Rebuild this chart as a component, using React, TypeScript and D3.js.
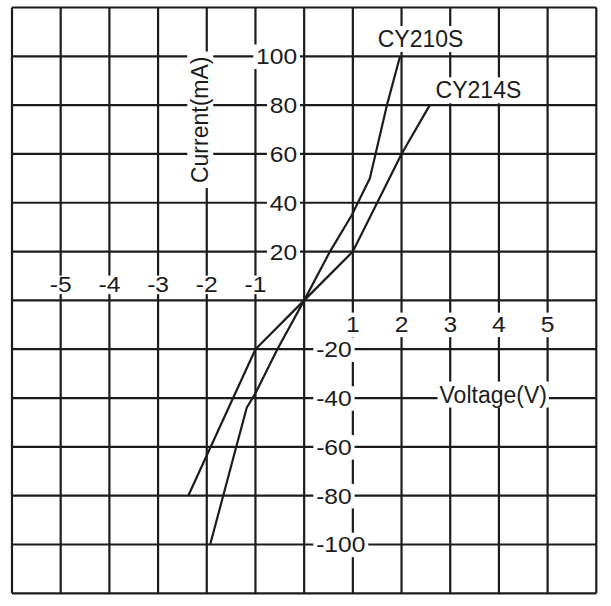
import React, { useEffect, useRef } from "react";
import * as d3 from "d3";

const W = 611;
const H = 606;

const gridX = [-6, -5, -4, -3, -2, -1, 0, 1, 2, 3, 4, 5, 6];
const gridY = [-120, -100, -80, -60, -40, -20, 0, 20, 40, 60, 80, 100, 120];
const xTicksNeg = [-5, -4, -3, -2, -1];
const xTicksPos = [1, 2, 3, 4, 5];
const yTicksPos = [100, 80, 60, 40, 20];
const yTicksNeg = [-20, -40, -60, -80, -100];

const cy210sV = [-1.93, -1.18, -1.0, -0.55, 0, 0.53, 0.98, 1.35, 1.7, 1.97];
const cy210sI = [-100, -44, -38, -20, 0, 20, 35, 50, 80, 100];
const cy214sV = [-2.38, -1.0, 0, 1.0, 2.0, 2.58];
const cy214sI = [-80, -20, 0, 20, 60, 80];

const INK = "#1c1c1c";
const FONT = "'Liberation Sans', Arial, sans-serif";

export default function App() {
  const ref = useRef<SVGSVGElement>(null);

  useEffect(() => {
    const svg = d3.select(ref.current);
    svg.selectAll("*").remove();

    const x = d3.scaleLinear().domain([-6, 6]).range([12, 596.3]);
    const y = d3.scaleLinear().domain([-120, 120]).range([593.3, 7.5]);

    const g = svg.append("g");

    // grid
    g.selectAll("line.v")
      .data(gridX)
      .join("line")
      .attr("x1", (d) => x(d))
      .attr("x2", (d) => x(d))
      .attr("y1", y(120))
      .attr("y2", y(-120))
      .attr("stroke", INK)
      .attr("stroke-width", 2.2);
    g.selectAll("line.h")
      .data(gridY)
      .join("line")
      .attr("class", "h")
      .attr("x1", x(-6))
      .attr("x2", x(6))
      .attr("y1", (d) => y(d))
      .attr("y2", (d) => y(d))
      .attr("stroke", INK)
      .attr("stroke-width", 2.2);

    const labels = svg.append("g");

    function addLabel(
      text: string,
      tx: number,
      ty: number,
      anchor: string,
      size: number,
      padX: number,
      padY: number,
      rotate = 0,
      sx = 1
    ) {
      const grp = labels
        .append("g")
        .attr("transform", `translate(${tx},${ty}) rotate(${rotate}) scale(${sx},1)`);
      const rect = grp.append("rect").attr("fill", "#fff");
      const t = grp
        .append("text")
        .attr("text-anchor", anchor)
        .attr("font-family", FONT)
        .attr("font-size", size)
        .attr("fill", INK)
        .text(text);
      const bb = (t.node() as SVGTextElement).getBBox();
      rect
        .attr("x", bb.x - padX)
        .attr("y", bb.y - padY)
        .attr("width", bb.width + 2 * padX)
        .attr("height", bb.height + 2 * padY);
    }

    const tickSize = 22;
    const sx = 1.12;
    xTicksNeg.forEach((v) =>
      addLabel(String(v), x(v), y(0) - 8, "middle", tickSize, 1, -3, 0, sx)
    );
    xTicksPos.forEach((v) =>
      addLabel(String(v), x(v), y(0) + 32, "middle", tickSize, 1, 0, 0, sx)
    );
    yTicksPos.forEach((v) =>
      addLabel(String(v), x(0) - 7, y(v) + 8, "end", tickSize, 2.5, 0, 0, sx)
    );
    yTicksNeg.forEach((v) =>
      addLabel(String(v), x(0) + 12, y(v) + 8, "start", tickSize, 2.5, 0, 0, sx)
    );

    addLabel("Current(mA)", x(-2) + 1.5, y(74), "middle", 23, 5, 0, -90);
    addLabel("Voltage(V)", x(2.78), y(-40) + 4.5, "start", 23, 2, 0);
    addLabel("CY210S", x(1.5) + 0.5, 47, "start", 23, 2, 0);
    addLabel("CY214S", x(2.7), 98.3, "start", 23, 2, 0);

    // curves
    const line = d3
      .line<number>()
      .x((d) => d)
      .y((d) => d);
    const series = [
      { v: cy210sV, i: cy210sI },
      { v: cy214sV, i: cy214sI },
    ];
    const path = d3
      .line<[number, number]>()
      .x((d) => x(d[0]))
      .y((d) => y(d[1]));
    svg
      .append("g")
      .selectAll("path")
      .data(series)
      .join("path")
      .attr("d", (s) => path(s.v.map((vv, k) => [vv, s.i[k]] as [number, number])))
      .attr("fill", "none")
      .attr("stroke", INK)
      .attr("stroke-width", 2.2)
      .attr("stroke-linejoin", "round");
    void line;
  }, []);

  return (
    <svg
      ref={ref}
      width={W}
      height={H}
      style={{ position: "absolute", left: 0, top: 0, background: "#fff" }}
    />
  );
}
